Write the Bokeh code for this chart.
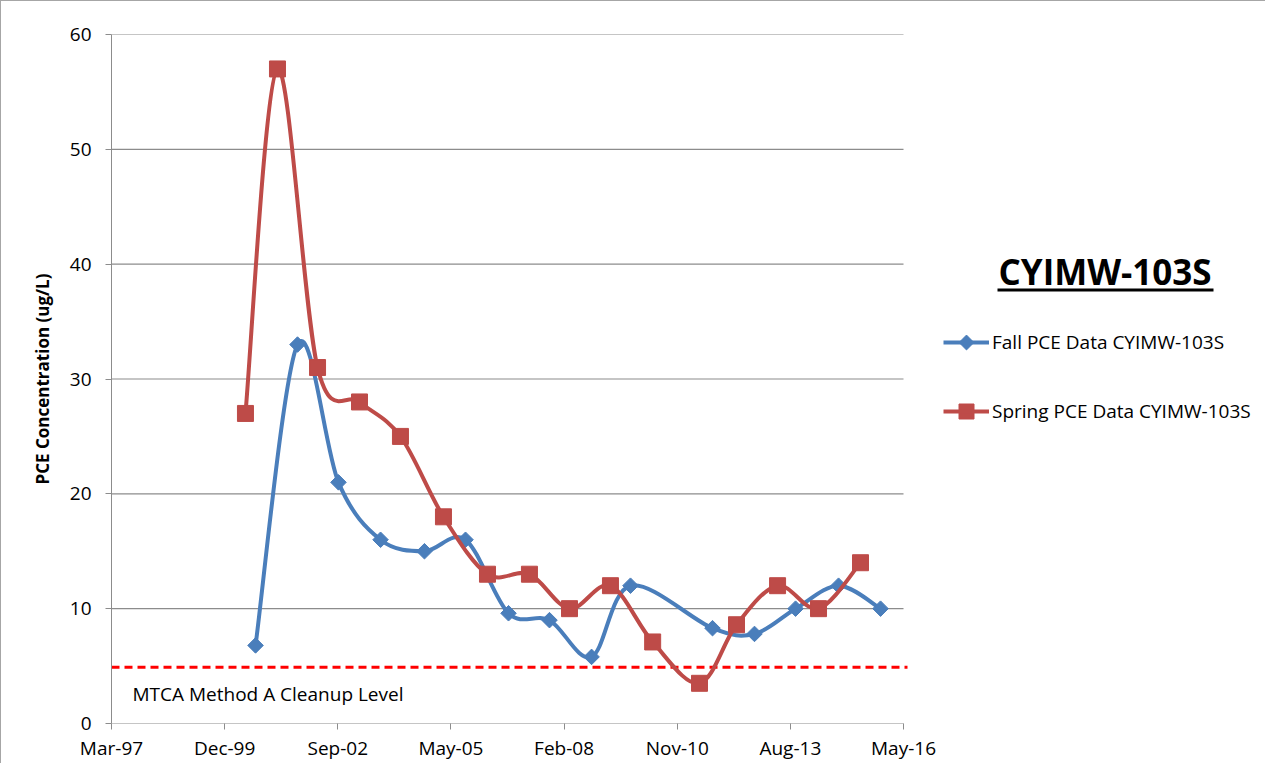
import numpy as np
import pandas as pd
from bokeh.plotting import figure
from bokeh.models import (Range1d, FixedTicker, DatetimeTickFormatter, Label,
                          Legend, LegendItem, BoxAnnotation)
from bokeh.embed import file_html
from bokeh.resources import INLINE

# ---------------- data ----------------
title_text = "CYIMW-103S"
fall_label = "Fall PCE Data CYIMW-103S"
spring_label = "Spring PCE Data CYIMW-103S"
y_label = "PCE Concentration (ug/L)"
cleanup_label = "MTCA Method A Cleanup Level"

fall_dates = ["2000-09-04", "2001-09-10", "2002-09-07", "2003-09-14", "2004-10-06",
              "2005-10-04", "2006-10-19", "2007-10-16", "2008-10-22", "2009-10-01",
              "2011-09-26", "2012-10-01", "2013-09-29", "2014-10-14", "2015-10-20"]
fall_values = [6.8, 33, 21, 16, 15, 16, 9.6, 9.0, 5.8, 12, 8.3, 7.8, 10, 12, 10]

spring_dates = ["2000-06-07", "2001-03-17", "2002-03-06", "2003-03-12", "2004-03-08",
                "2005-03-23", "2006-04-16", "2007-04-22", "2008-04-10", "2009-04-07",
                "2010-04-15", "2011-06-03", "2012-04-25", "2013-04-23", "2014-04-20",
                "2015-04-26"]
spring_values = [27, 57, 31, 28, 25, 18, 13, 13, 10, 12, 7.1, 3.5, 8.6, 12, 10, 14]

cleanup_level = 4.9

x_tick_dates = ["1997-03-11", "1999-12-06", "2002-09-01", "2005-05-28",
                "2008-02-22", "2010-11-18", "2013-08-14", "2016-05-10"]
y_ticks = [0, 10, 20, 30, 40, 50, 60]

# ---------------- helpers ----------------
def to_ms(dates):
    d = pd.to_datetime(dates)
    return np.asarray((d - pd.Timestamp("1970-01-01")) // pd.Timedelta(milliseconds=1), dtype=float)

def smooth(xs, ys):
    x = np.asarray(xs, float)
    y = np.asarray(ys, float)
    n = len(x)
    xp = np.concatenate([[x[0]], x, [x[-1]]])
    yp = np.concatenate([[y[0]], y, [y[-1]]])
    cx0 = x[:-1] + (xp[2:n + 1] - xp[0:n - 1]) / 6.0
    cy0 = y[:-1] + (yp[2:n + 1] - yp[0:n - 1]) / 6.0
    cx1 = x[1:] - (xp[3:n + 2] - xp[1:n]) / 6.0
    cy1 = y[1:] - (yp[3:n + 2] - yp[1:n]) / 6.0
    return dict(x0=x[:-1], y0=y[:-1], x1=x[1:], y1=y[1:],
                cx0=cx0, cy0=cy0, cx1=cx1, cy1=cy1)

FONT = "Open Sans"
BLUE = "#4A7EBB"
RED = "#BE4B48"
GRID = "#8C8C8C"

# layout (pixels)
W, H = 1265, 763
LEFT, TOP, PLOT_W, PLOT_H = 110, 33, 792, 689
FRAME_W = W - LEFT
Y_MAX = 60

fx = to_ms(fall_dates)
sx = to_ms(spring_dates)
ticks = to_ms(x_tick_dates)
span_ms = ticks[-1] - ticks[0]
x_end = ticks[0] + span_ms * FRAME_W / PLOT_W   # frame extends right for legend/title
dash_end = ticks[0] + span_ms * (PLOT_W + 4) / PLOT_W

def sx_px(px):   # frame-relative pixel -> data x (for legend swatches)
    return ticks[0] + span_ms * px / PLOT_W

def sy_px(py):   # pixels above frame bottom -> data y
    return Y_MAX * py / PLOT_H

p = figure(width=W, height=H, x_axis_type="datetime",
           output_backend="svg", toolbar_location=None,
           x_range=Range1d(ticks[0], x_end), y_range=Range1d(0, Y_MAX),
           min_border_left=LEFT, min_border_top=TOP, min_border_right=0,
           min_border_bottom=H - TOP - PLOT_H)
p.styles = {"border-left": "1px solid #A6A6A6", "border-top": "1px solid #A6A6A6"}
p.outline_line_color = None
p.background_fill_color = "white"
p.border_fill_color = "white"

# axes
p.xaxis.ticker = FixedTicker(ticks=list(ticks))
p.xaxis.formatter = DatetimeTickFormatter(days="%b-%y", months="%b-%y", years="%b-%y")
p.yaxis.ticker = FixedTicker(ticks=y_ticks)
for ax in (p.xaxis[0], p.yaxis[0]):
    ax.axis_line_color = GRID
    ax.major_tick_line_color = GRID
    ax.major_tick_out = 6
    ax.major_tick_in = 0
    ax.minor_tick_line_color = None
    ax.major_label_text_font = FONT
    ax.major_label_text_font_size = "19px"
    ax.major_label_text_color = "black"
p.xaxis.axis_line_color = None
p.xaxis.major_label_standoff = 5
p.yaxis.major_label_standoff = 14
p.yaxis.axis_label = y_label
p.yaxis.axis_label_text_font = FONT
p.yaxis.axis_label_text_font_size = "17px"
p.yaxis.axis_label_text_font_style = "bold"
p.yaxis.axis_label_text_color = "black"
p.yaxis.axis_label_standoff = 13

p.xgrid.grid_line_color = None
p.ygrid.grid_line_color = None

# horizontal gridlines + x axis line, only over the plot area
gx0 = [ticks[0]] * len(y_ticks)
gx1 = [ticks[-1]] * len(y_ticks)
p.segment(x0=gx0, x1=gx1, y0=y_ticks, y1=y_ticks, line_color=GRID, line_width=1.2,
          level="underlay")

# cleanup level
p.segment(x0=[ticks[0]], x1=[dash_end], y0=[cleanup_level], y1=[cleanup_level],
          line_color="#FF0000", line_width=3, line_dash="8 5")

# series
fs = smooth(fx, fall_values)
fall_line = p.bezier(x0=fs["x0"], y0=fs["y0"], x1=fs["x1"], y1=fs["y1"],
                     cx0=fs["cx0"], cy0=fs["cy0"], cx1=fs["cx1"], cy1=fs["cy1"],
                     line_color=BLUE, line_width=4)
fall_pts = p.scatter(fx, fall_values, marker="square", angle=np.pi / 4, size=11,
                     fill_color=BLUE, line_color=BLUE)
ss = smooth(sx, spring_values)
spring_line = p.bezier(x0=ss["x0"], y0=ss["y0"], x1=ss["x1"], y1=ss["y1"],
                       cx0=ss["cx0"], cy0=ss["cy0"], cx1=ss["cx1"], cy1=ss["cy1"],
                       line_color=RED, line_width=4)
spring_pts = p.scatter(sx, spring_values, marker="square", size=16,
                       fill_color=RED, line_color=RED)

# texts
p.add_layout(Label(x=21, y=30, x_units="screen", y_units="screen", text=cleanup_label,
                   text_font=FONT, text_font_size="19px", text_color="black",
                   text_baseline="alphabetic"))
p.add_layout(Label(x=887, y=452, x_units="screen", y_units="screen", text=title_text,
                   text_font=FONT, text_font_size="35px", text_font_style="bold",
                   text_color="black", text_baseline="alphabetic"))
p.add_layout(BoxAnnotation(left=886, right=1102, bottom=432, top=435,
                           left_units="screen", right_units="screen",
                           bottom_units="screen", top_units="screen",
                           fill_color="black", fill_alpha=1, line_color=None))

# legend: lines + labels from Legend, markers drawn on top of its swatches
legend = Legend(items=[LegendItem(label=fall_label, renderers=[fall_line]),
                       LegendItem(label=spring_label, renderers=[spring_line])],
                location=(832, 297), orientation="vertical",
                glyph_width=46, glyph_height=30, label_standoff=3, spacing=39,
                padding=0, margin=0, border_line_alpha=0, background_fill_alpha=0,
                label_text_font=FONT, label_text_font_size="19px", label_text_color="black")
legend.level = "underlay"
p.add_layout(legend)
swatch_x = sx_px(855)
p.scatter([swatch_x], [sy_px(381)], marker="square", angle=np.pi / 4, size=10.5,
          fill_color=BLUE, line_color=BLUE)
p.scatter([swatch_x], [sy_px(312)], marker="square", size=15,
          fill_color=RED, line_color=RED)

open("out.html", "w").write(file_html(p, INLINE))
